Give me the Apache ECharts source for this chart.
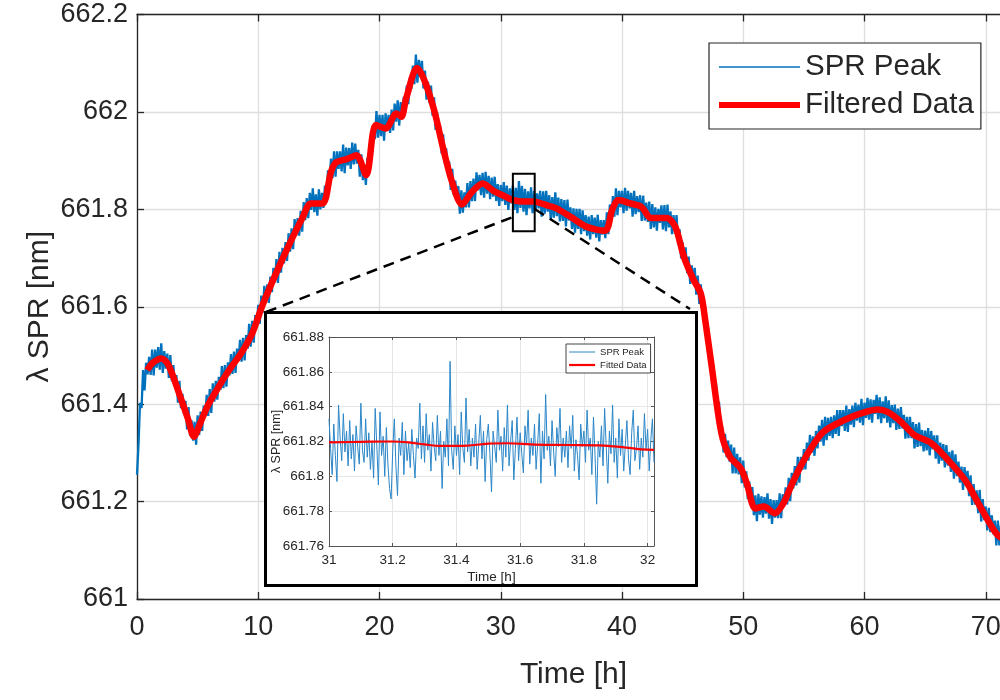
<!DOCTYPE html>
<html>
<head>
<meta charset="utf-8">
<title>SPR peak drift</title>
<script src="https://cdn.jsdelivr.net/npm/echarts@6/dist/echarts.min.js"></script>
<style>
  html, body { margin: 0; padding: 0; background: #fff; }
  #main { position: absolute; left: 0; top: 0; width: 1000px; height: 700px; }
  #inset { position: absolute; left: 264px; top: 311px; width: 434px; height: 276px;
           border: 3px solid #000; box-sizing: border-box; background: #fff; }
  #insetChart { width: 428px; height: 270px; }
</style>
</head>
<body>
<div id="main"></div>
<div id="inset"><div id="insetChart"></div></div>
<script>
// Raw SPR peak wavelength, sampled every 0.125 h from t = 0 h
const peakStartH = 0;
const peakStepH = 0.125;
const peakNm = [
  661.255, 661.318, 661.403, 661.392, 661.470, 661.428, 661.485, 661.461, 661.497, 661.460,
  661.512, 661.459, 661.512, 661.475, 661.517, 661.471, 661.525, 661.464, 661.509, 661.473,
  661.504, 661.454, 661.501, 661.447, 661.480, 661.436, 661.460, 661.403, 661.448, 661.392,
  661.421, 661.380, 661.407, 661.348, 661.394, 661.336, 661.367, 661.325, 661.364, 661.317,
  661.377, 661.337, 661.385, 661.345, 661.397, 661.376, 661.419, 661.376, 661.431, 661.382,
  661.443, 661.405, 661.448, 661.409, 661.456, 661.429, 661.478, 661.433, 661.480, 661.436,
  661.486, 661.459, 661.503, 661.462, 661.508, 661.464, 661.514, 661.489, 661.532, 661.487,
  661.536, 661.490, 661.542, 661.514, 661.565, 661.518, 661.571, 661.526, 661.583, 661.557,
  661.604, 661.565, 661.623, 661.588, 661.643, 661.609, 661.646, 661.608, 661.662, 661.630,
  661.680, 661.650, 661.698, 661.649, 661.713, 661.670, 661.721, 661.689, 661.733, 661.694,
  661.751, 661.713, 661.761, 661.718, 661.780, 661.746, 661.782, 661.746, 661.797, 661.754,
  661.815, 661.778, 661.823, 661.782, 661.834, 661.799, 661.843, 661.794, 661.831, 661.787,
  661.841, 661.800, 661.834, 661.803, 661.849, 661.817, 661.880, 661.857, 661.904, 661.864,
  661.919, 661.867, 661.919, 661.883, 661.919, 661.878, 661.933, 661.874, 661.927, 661.890,
  661.926, 661.883, 661.937, 661.892, 661.935, 661.894, 661.922, 661.867, 661.913, 661.860,
  661.892, 661.850, 661.906, 661.871, 661.942, 661.910, 661.967, 661.944, 662.002, 661.947,
  661.994, 661.950, 661.994, 661.941, 661.997, 661.961, 661.994, 661.957, 662.005, 661.962,
  662.017, 661.980, 662.024, 661.972, 662.020, 661.988, 662.031, 662.002, 662.054, 662.016,
  662.070, 662.047, 662.095, 662.057, 662.118, 662.060, 662.107, 662.072, 662.105, 662.048,
  662.085, 662.025, 662.062, 662.018, 662.054, 661.992, 662.030, 661.963, 661.999, 661.951,
  661.972, 661.914, 661.954, 661.896, 661.925, 661.877, 661.898, 661.840, 661.883, 661.829,
  661.859, 661.820, 661.848, 661.791, 661.839, 661.793, 661.835, 661.804, 661.854, 661.804,
  661.858, 661.817, 661.863, 661.817, 661.876, 661.839, 661.871, 661.829, 661.875, 661.824,
  661.877, 661.832, 661.869, 661.821, 661.865, 661.826, 661.867, 661.817, 661.852, 661.807,
  661.850, 661.817, 661.856, 661.809, 661.849, 661.799, 661.843, 661.812, 661.849, 661.799,
  661.844, 661.792, 661.858, 661.803, 661.848, 661.795, 661.842, 661.788, 661.837, 661.802,
  661.845, 661.792, 661.838, 661.798, 661.833, 661.802, 661.838, 661.785, 661.837, 661.791,
  661.838, 661.795, 661.829, 661.778, 661.825, 661.783, 661.835, 661.786, 661.824, 661.775,
  661.821, 661.776, 661.819, 661.765, 661.820, 661.777, 661.804, 661.760, 661.802, 661.752,
  661.801, 661.760, 661.801, 661.749, 661.798, 661.755, 661.788, 661.746, 661.785, 661.738,
  661.788, 661.749, 661.783, 661.742, 661.789, 661.734, 661.778, 661.748, 661.778, 661.741,
  661.794, 661.749, 661.810, 661.779, 661.827, 661.785, 661.843, 661.788, 661.838, 661.804,
  661.838, 661.792, 661.844, 661.797, 661.838, 661.802, 661.834, 661.785, 661.838, 661.790,
  661.827, 661.794, 661.829, 661.776, 661.828, 661.777, 661.814, 661.774, 661.816, 661.760,
  661.811, 661.763, 661.804, 661.756, 661.801, 661.772, 661.808, 661.759, 661.809, 661.755,
  661.810, 661.763, 661.796, 661.749, 661.788, 661.750, 661.788, 661.728, 661.759, 661.699,
  661.732, 661.691, 661.722, 661.669, 661.703, 661.647, 661.685, 661.648, 661.680, 661.625,
  661.664, 661.606, 661.646, 661.594, 661.621, 661.547, 661.574, 661.498, 661.525, 661.468,
  661.484, 661.415, 661.443, 661.379, 661.405, 661.344, 661.354, 661.301, 661.339, 661.291,
  661.325, 661.282, 661.317, 661.258, 661.311, 661.258, 661.298, 661.256, 661.291, 661.238,
  661.284, 661.229, 661.262, 661.205, 661.241, 661.203, 661.230, 661.172, 661.213, 661.160,
  661.216, 661.173, 661.211, 661.167, 661.209, 661.175, 661.217, 661.165, 661.205, 661.154,
  661.203, 661.167, 661.203, 661.166, 661.217, 661.166, 661.215, 661.192, 661.229, 661.194,
  661.249, 661.201, 661.259, 661.227, 661.273, 661.233, 661.292, 661.239, 661.292, 661.265,
  661.308, 661.266, 661.321, 661.284, 661.337, 661.300, 661.334, 661.294, 661.345, 661.309,
  661.356, 661.323, 661.368, 661.315, 661.374, 661.326, 661.372, 661.335, 661.374, 661.330,
  661.377, 661.339, 661.388, 661.335, 661.388, 661.355, 661.388, 661.345, 661.397, 661.343,
  661.390, 661.358, 661.397, 661.353, 661.403, 661.366, 661.399, 661.362, 661.411, 661.357,
  661.403, 661.372, 661.413, 661.368, 661.410, 661.362, 661.409, 661.380, 661.419, 661.369,
  661.414, 661.361, 661.406, 661.371, 661.416, 661.362, 661.408, 661.352, 661.398, 661.361,
  661.399, 661.347, 661.391, 661.349, 661.394, 661.350, 661.378, 661.329, 661.374, 661.330,
  661.374, 661.330, 661.363, 661.309, 661.359, 661.312, 661.362, 661.314, 661.347, 661.303,
  661.346, 661.305, 661.351, 661.295, 661.345, 661.307, 661.336, 661.288, 661.336, 661.278,
  661.321, 661.284, 661.318, 661.270, 661.316, 661.274, 661.302, 661.261, 661.305, 661.247,
  661.297, 661.252, 661.282, 661.239, 661.272, 661.224, 661.271, 661.232, 661.263, 661.211,
  661.254, 661.193, 661.236, 661.194, 661.223, 661.176, 661.224, 661.159, 661.205, 661.162,
  661.190, 661.141, 661.187, 661.137, 661.172, 661.133, 661.161, 661.110, 661.161, 661.110,
  661.152, 661.112, 661.142, 661.093, 661.150, 661.096, 661.141
];

// Filtered curve (time in hours, wavelength in nm)
const filteredTimeH = [
  0.85, 1.3, 2.0, 2.6, 3.5, 4.2, 4.7, 5.2, 5.8, 6.6, 7.6, 8.6, 9.5, 10.3, 11.4, 12.6,
  13.6, 14.35, 15.3, 16.0, 16.4, 17.3, 18.1, 18.9, 19.7, 20.5, 21.4, 21.8, 22.2, 23.1,
  23.7, 24.5, 25.3, 26.0, 26.8, 27.6, 28.5, 29.4, 30.4, 31.0, 32.0, 32.7, 33.6, 34.6,
  35.8, 37.1, 38.6, 39.2, 39.7, 40.7, 41.6, 42.4, 43.7, 44.4, 45.1, 45.9, 46.5, 46.9,
  47.4, 48.2, 48.9, 49.8, 50.3, 51.0, 51.7, 52.6, 53.3, 54.0, 54.7, 55.6, 56.6, 58.3,
  59.7, 61.1, 61.9, 63.0, 64.1, 65.5, 66.9, 68.3, 69.4, 70.5, 71.0, 72.0
];
const filteredNm = [
  661.470, 661.485, 661.494, 661.480, 661.420, 661.370, 661.333, 661.360, 661.395, 661.430,
  661.470, 661.505, 661.545, 661.600, 661.665, 661.730, 661.780, 661.812, 661.812, 661.877,
  661.896, 661.903, 661.911, 661.870, 661.973, 661.966, 661.997, 661.990, 662.028, 662.090,
  662.065, 662.004, 661.920, 661.855, 661.810, 661.835, 661.853, 661.838, 661.826, 661.819,
  661.816, 661.816, 661.810, 661.802, 661.784, 661.764, 661.756, 661.800, 661.819, 661.812,
  661.805, 661.782, 661.782, 661.764, 661.703, 661.655, 661.627, 661.566, 661.477, 661.340,
  661.292, 661.268, 661.237, 661.186, 661.190, 661.176, 661.196, 661.235, 661.271, 661.310,
  661.343, 661.367, 661.381, 661.389, 661.384, 661.364, 661.337, 661.320, 661.285, 661.244,
  661.196, 661.148, 661.131, 661.115
];

// Zoom window (31 h to 32.02 h), raw samples every 0.005 h
const zoomStartH = 31;
const zoomStepH = 0.005;
const zoomPeakNm = [
  661.833, 661.816, 661.801, 661.830, 661.812, 661.797, 661.841, 661.822, 661.809, 661.836,
  661.814, 661.826, 661.806, 661.832, 661.810, 661.824, 661.803, 661.829, 661.817, 661.807,
  661.842, 661.815, 661.808, 661.833, 661.811, 661.825, 661.804, 661.820, 661.799, 661.839,
  661.818, 661.795, 661.837, 661.812, 661.823, 661.800, 661.828, 661.807, 661.793, 661.787,
  661.815, 661.833, 661.806, 661.789, 661.822, 661.812, 661.831, 661.801, 661.826, 661.809,
  661.819, 661.805, 661.827, 661.812, 661.799, 661.822, 661.816, 661.842, 661.810, 661.829,
  661.808, 661.836, 661.815, 661.824, 661.803, 661.831, 661.817, 661.809, 661.835, 661.812,
  661.826, 661.793, 661.820, 661.811, 661.833, 661.806, 661.866, 661.815, 661.804, 661.829,
  661.812, 661.824, 661.801, 661.837, 661.816, 661.808, 661.845, 661.814, 661.827, 661.806,
  661.822, 661.811, 661.830, 661.804, 661.819, 661.835, 661.810, 661.826, 661.797, 661.821,
  661.830, 661.813, 661.791, 661.826, 661.817, 661.808, 661.838, 661.815, 661.823, 661.803,
  661.828, 661.811, 661.841, 661.806, 661.820, 661.832, 661.798, 661.816, 661.834, 661.809,
  661.825, 661.813, 661.802, 661.829, 661.818, 661.838, 661.807, 661.822, 661.812, 661.830,
  661.804, 661.819, 661.836, 661.796, 661.826, 661.810, 661.847, 661.815, 661.823, 661.806,
  661.832, 661.814, 661.800, 661.828, 661.817, 661.839, 661.808, 661.822, 661.811, 661.826,
  661.805, 661.829, 661.816, 661.835, 661.803, 661.821, 661.812, 661.798, 661.830, 661.817,
  661.826, 661.808, 661.838, 661.815, 661.822, 661.801, 661.834, 661.812, 661.784, 661.820,
  661.811, 661.829, 661.806, 661.839, 661.817, 661.796, 661.826, 661.813, 661.841, 661.808,
  661.822, 661.799, 661.833, 661.812, 661.827, 661.803, 661.818, 661.832, 661.810, 661.801,
  661.825, 661.838, 661.809, 661.816, 661.829, 661.804, 661.822, 661.811, 661.836, 661.815,
  661.827, 661.803, 661.821, 661.833, 661.808
];

// Fitted curve over the zoom window
const fittedTimeH = [31.0, 31.1, 31.2, 31.25, 31.3, 31.35, 31.42, 31.5, 31.56, 31.65, 31.75, 31.85, 31.92, 31.98, 32.02];
const fittedNm = [661.8195, 661.8198, 661.8200, 661.8195, 661.8183, 661.8175, 661.8175, 661.8188, 661.8190, 661.8182, 661.8180, 661.8178, 661.8168, 661.8155, 661.8152];

// Highlighted region on the main axes
const zoomBox = { t0: 31, t1: 32.8, lo: 661.755, hi: 661.873 };

const FONT = "'Liberation Sans', Arial, Helvetica, sans-serif";
const INK = '#262626';
const GRID = '#dedede';
const BLUE = '#0072BD';
const RED = '#FF0000';

function boxAxis(base, extra) {
  return Object.assign({}, base, extra);
}

// ---------- main chart ----------
const mainChart = echarts.init(document.getElementById('main'), null, { renderer: 'canvas' });
const peakData = peakNm.map((v, i) => [peakStartH + i * peakStepH, v]);
const filteredData = filteredTimeH.map((t, i) => [t, filteredNm[i]]);

const mainX = {
  type: 'value', min: 0, max: 72, interval: 10,
  axisLine: { show: true, onZero: false, lineStyle: { color: INK, width: 1.3 } },
  axisTick: { show: true, inside: true, length: 7, lineStyle: { color: INK, width: 1.3 } },
  splitLine: { show: false }
};
const mainY = {
  type: 'value', min: 661, max: 662.2, interval: 0.2,
  axisLine: { show: true, onZero: false, lineStyle: { color: INK, width: 1.3 } },
  axisTick: { show: true, inside: true, length: 7, lineStyle: { color: INK, width: 1.3 } },
  splitLine: { show: false }
};

mainChart.setOption({
  animation: false,
  grid: { left: 137, top: 14.5, right: -10, bottom: 101, outerBoundsMode: 'none' },
  xAxis: [
    boxAxis(mainX, {
      position: 'bottom',
      axisLabel: { color: INK, fontSize: 27, fontFamily: FONT, margin: 15, showMaxLabel: false },
      splitLine: { show: true, lineStyle: { color: GRID, width: 1.3 } },
      name: 'Time [h]', nameLocation: 'middle', nameGap: 61, nameMoveOverlap: false,
      nameTextStyle: { color: INK, fontSize: 30, fontFamily: FONT }
    }),
    boxAxis(mainX, { position: 'top', axisLabel: { show: false } })
  ],
  yAxis: [
    boxAxis(mainY, {
      position: 'left',
      axisLabel: { color: INK, fontSize: 27, fontFamily: FONT, margin: 9 },
      splitLine: { show: true, lineStyle: { color: GRID, width: 1.3 } },
      name: 'λ SPR [nm]', nameLocation: 'middle', nameGap: 82, nameRotate: 90, nameMoveOverlap: false,
      nameTextStyle: { color: INK, fontSize: 30, fontFamily: FONT }
    })
  ],
  legend: {
    orient: 'vertical', left: 709, top: 43,
    padding: [9, 7, 9, 7], itemGap: 8, itemWidth: 81, itemHeight: 28,
    backgroundColor: '#fff', borderColor: INK, borderWidth: 1.2,
    textStyle: { color: INK, fontSize: 29.5, fontFamily: FONT },
    itemStyle: { opacity: 0 },
    data: [
      { name: 'SPR Peak', lineStyle: { width: 1.6 } },
      { name: 'Filtered Data', lineStyle: { width: 6 } }
    ]
  },
  series: [
    {
      name: 'SPR Peak', type: 'line', data: peakData, symbol: 'none',
      lineStyle: { color: BLUE, width: 2.3 }, itemStyle: { color: BLUE }, z: 2
    },
    {
      name: 'Filtered Data', type: 'line', data: filteredData, symbol: 'none', smooth: 0.3,
      lineStyle: { color: RED, width: 6.5 }, itemStyle: { color: RED }, z: 3
    }
  ]
});

// zoom box and connector lines
const pTL = mainChart.convertToPixel({ xAxisIndex: 0, yAxisIndex: 0 }, [zoomBox.t0, zoomBox.hi]);
const pBR = mainChart.convertToPixel({ xAxisIndex: 0, yAxisIndex: 0 }, [zoomBox.t1, zoomBox.lo]);
mainChart.setOption({
  graphic: [
    {
      type: 'rect', z: 100,
      shape: { x: pTL[0], y: pTL[1], width: pBR[0] - pTL[0], height: pBR[1] - pTL[1] },
      style: { fill: 'none', stroke: '#000', lineWidth: 2 }
    },
    {
      type: 'line', z: 100,
      shape: { x1: 266, y1: 312, x2: pTL[0], y2: 217 },
      style: { stroke: '#000', lineWidth: 2.5, lineDash: [11, 7] }
    },
    {
      type: 'line', z: 100,
      shape: { x1: pBR[0], y1: 209, x2: 690, y2: 309 },
      style: { stroke: '#000', lineWidth: 2.5, lineDash: [11, 7] }
    }
  ]
});

// ---------- inset chart ----------
const insetChart = echarts.init(document.getElementById('insetChart'), null, { renderer: 'canvas' });
const zoomData = zoomPeakNm.map((v, i) => [zoomStartH + i * zoomStepH, v]);
const fittedData = fittedTimeH.map((t, i) => [t, fittedNm[i]]);

const insetX = {
  type: 'value', min: 31, max: 32.02, interval: 0.2,
  axisLine: { show: true, onZero: false, lineStyle: { color: '#555', width: 1 } },
  axisTick: { show: true, inside: true, length: 3, lineStyle: { color: '#555' } },
  splitLine: { show: false }
};
const insetY = {
  type: 'value', min: 661.76, max: 661.88, interval: 0.02,
  axisLine: { show: true, onZero: false, lineStyle: { color: '#555', width: 1 } },
  axisTick: { show: true, inside: true, length: 3, lineStyle: { color: '#555' } },
  splitLine: { show: false }
};

insetChart.setOption({
  animation: false,
  grid: { left: 62, top: 23, right: 41, bottom: 38, outerBoundsMode: 'none' },
  xAxis: [
    boxAxis(insetX, {
      position: 'bottom',
      axisLabel: { color: INK, fontSize: 13.5, fontFamily: FONT, margin: 7, showMaxLabel: false },
      splitLine: { show: true, lineStyle: { color: '#e6e6e6', width: 1 } },
      name: 'Time [h]', nameLocation: 'middle', nameGap: 24, nameMoveOverlap: false,
      nameTextStyle: { color: INK, fontSize: 13.5, fontFamily: FONT }
    }),
    boxAxis(insetX, { position: 'top', axisLabel: { show: false } })
  ],
  yAxis: [
    boxAxis(insetY, {
      position: 'left',
      axisLabel: { color: INK, fontSize: 13.5, fontFamily: FONT, margin: 5 },
      splitLine: { show: true, lineStyle: { color: '#e6e6e6', width: 1 } },
      name: 'λ SPR [nm]', nameLocation: 'middle', nameGap: 46, nameRotate: 90, nameMoveOverlap: false,
      nameTextStyle: { color: INK, fontSize: 12.5, fontFamily: FONT }
    }),
    boxAxis(insetY, { position: 'right', axisLabel: { show: false } })
  ],
  legend: {
    orient: 'vertical', left: 299, top: 30,
    padding: [3, 4, 3, 2], itemGap: 3, itemWidth: 26, itemHeight: 10,
    backgroundColor: '#fff', borderColor: '#444', borderWidth: 1,
    textStyle: { color: INK, fontSize: 9.5, fontFamily: FONT },
    itemStyle: { opacity: 0 },
    data: [
      { name: 'SPR Peak', lineStyle: { width: 1 } },
      { name: 'Fitted Data', lineStyle: { width: 2.2 } }
    ]
  },
  series: [
    {
      name: 'SPR Peak', type: 'line', data: zoomData, symbol: 'none',
      lineStyle: { color: '#2b86c8', width: 1 }, itemStyle: { color: '#2b86c8' }, z: 2
    },
    {
      name: 'Fitted Data', type: 'line', data: fittedData, symbol: 'none', smooth: 0.4,
      lineStyle: { color: RED, width: 2.2 }, itemStyle: { color: RED }, z: 3
    }
  ]
});
</script>
</body>
</html>
